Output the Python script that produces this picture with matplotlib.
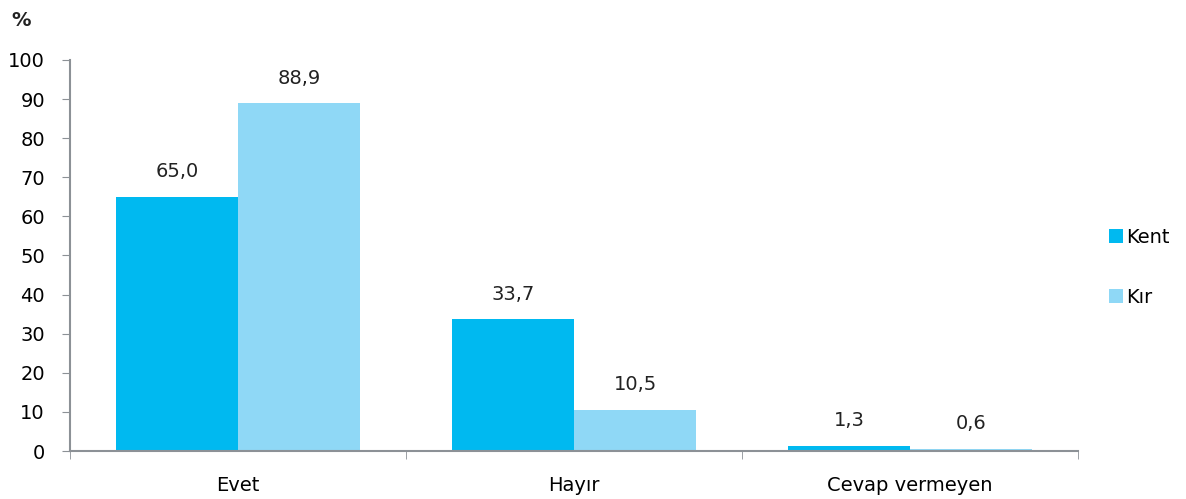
import numpy as np
import matplotlib.pyplot as plt

categories = ["Evet", "Hayır", "Cevap vermeyen"]
kent = [65.0, 33.7, 1.3]
kir = [88.9, 10.5, 0.6]
series_names = ["Kent", "Kır"]

fig = plt.figure(figsize=(11.86, 4.99), dpi=100)
ax = fig.add_axes([0.059, 0.096, 0.850, 0.784])

x = np.arange(len(categories))
w = 0.364
b1 = ax.bar(x - w / 2, kent, w, color="#00B9F0", label=series_names[0])
b2 = ax.bar(x + w / 2, kir, w, color="#8FD8F6", label=series_names[1])

for bars, vals in ((b1, kent), (b2, kir)):
    for r, v in zip(bars, vals):
        ax.text(r.get_x() + r.get_width() / 2, v + 4, f"{v:.1f}".replace(".", ","),
                ha="center", va="bottom", fontsize=14, color="#222222")

ax.set_xlim(-0.5, 2.5)
ax.set_ylim(0, 100)
ax.set_yticks(range(0, 101, 10))
ax.set_xticks(x)
ax.set_xticklabels(categories)
ax.set_xticks([-0.5, 0.5, 1.5, 2.5], minor=True)
ax.tick_params(axis="x", which="major", length=0, pad=18, labelsize=14)
ax.tick_params(axis="x", which="minor", length=6, direction="out", color="#8C9196")
ax.tick_params(axis="y", length=6, direction="out", color="#8C9196", labelsize=14, pad=12)

for s in ["top", "right"]:
    ax.spines[s].set_visible(False)
for s in ["left", "bottom"]:
    ax.spines[s].set_color("#8C9196")
    ax.spines[s].set_linewidth(1.5)

fig.text(0.010, 0.958, "%", fontsize=14, fontweight="bold", color="#222222", va="center")

ax.legend(loc="center left", bbox_to_anchor=(1.023, 0.47), frameon=False,
          borderaxespad=0, fontsize=14, handlelength=0.7, handleheight=0.7,
          handletextpad=0.2, labelspacing=2.1)

fig.savefig("out.png", dpi=100)
